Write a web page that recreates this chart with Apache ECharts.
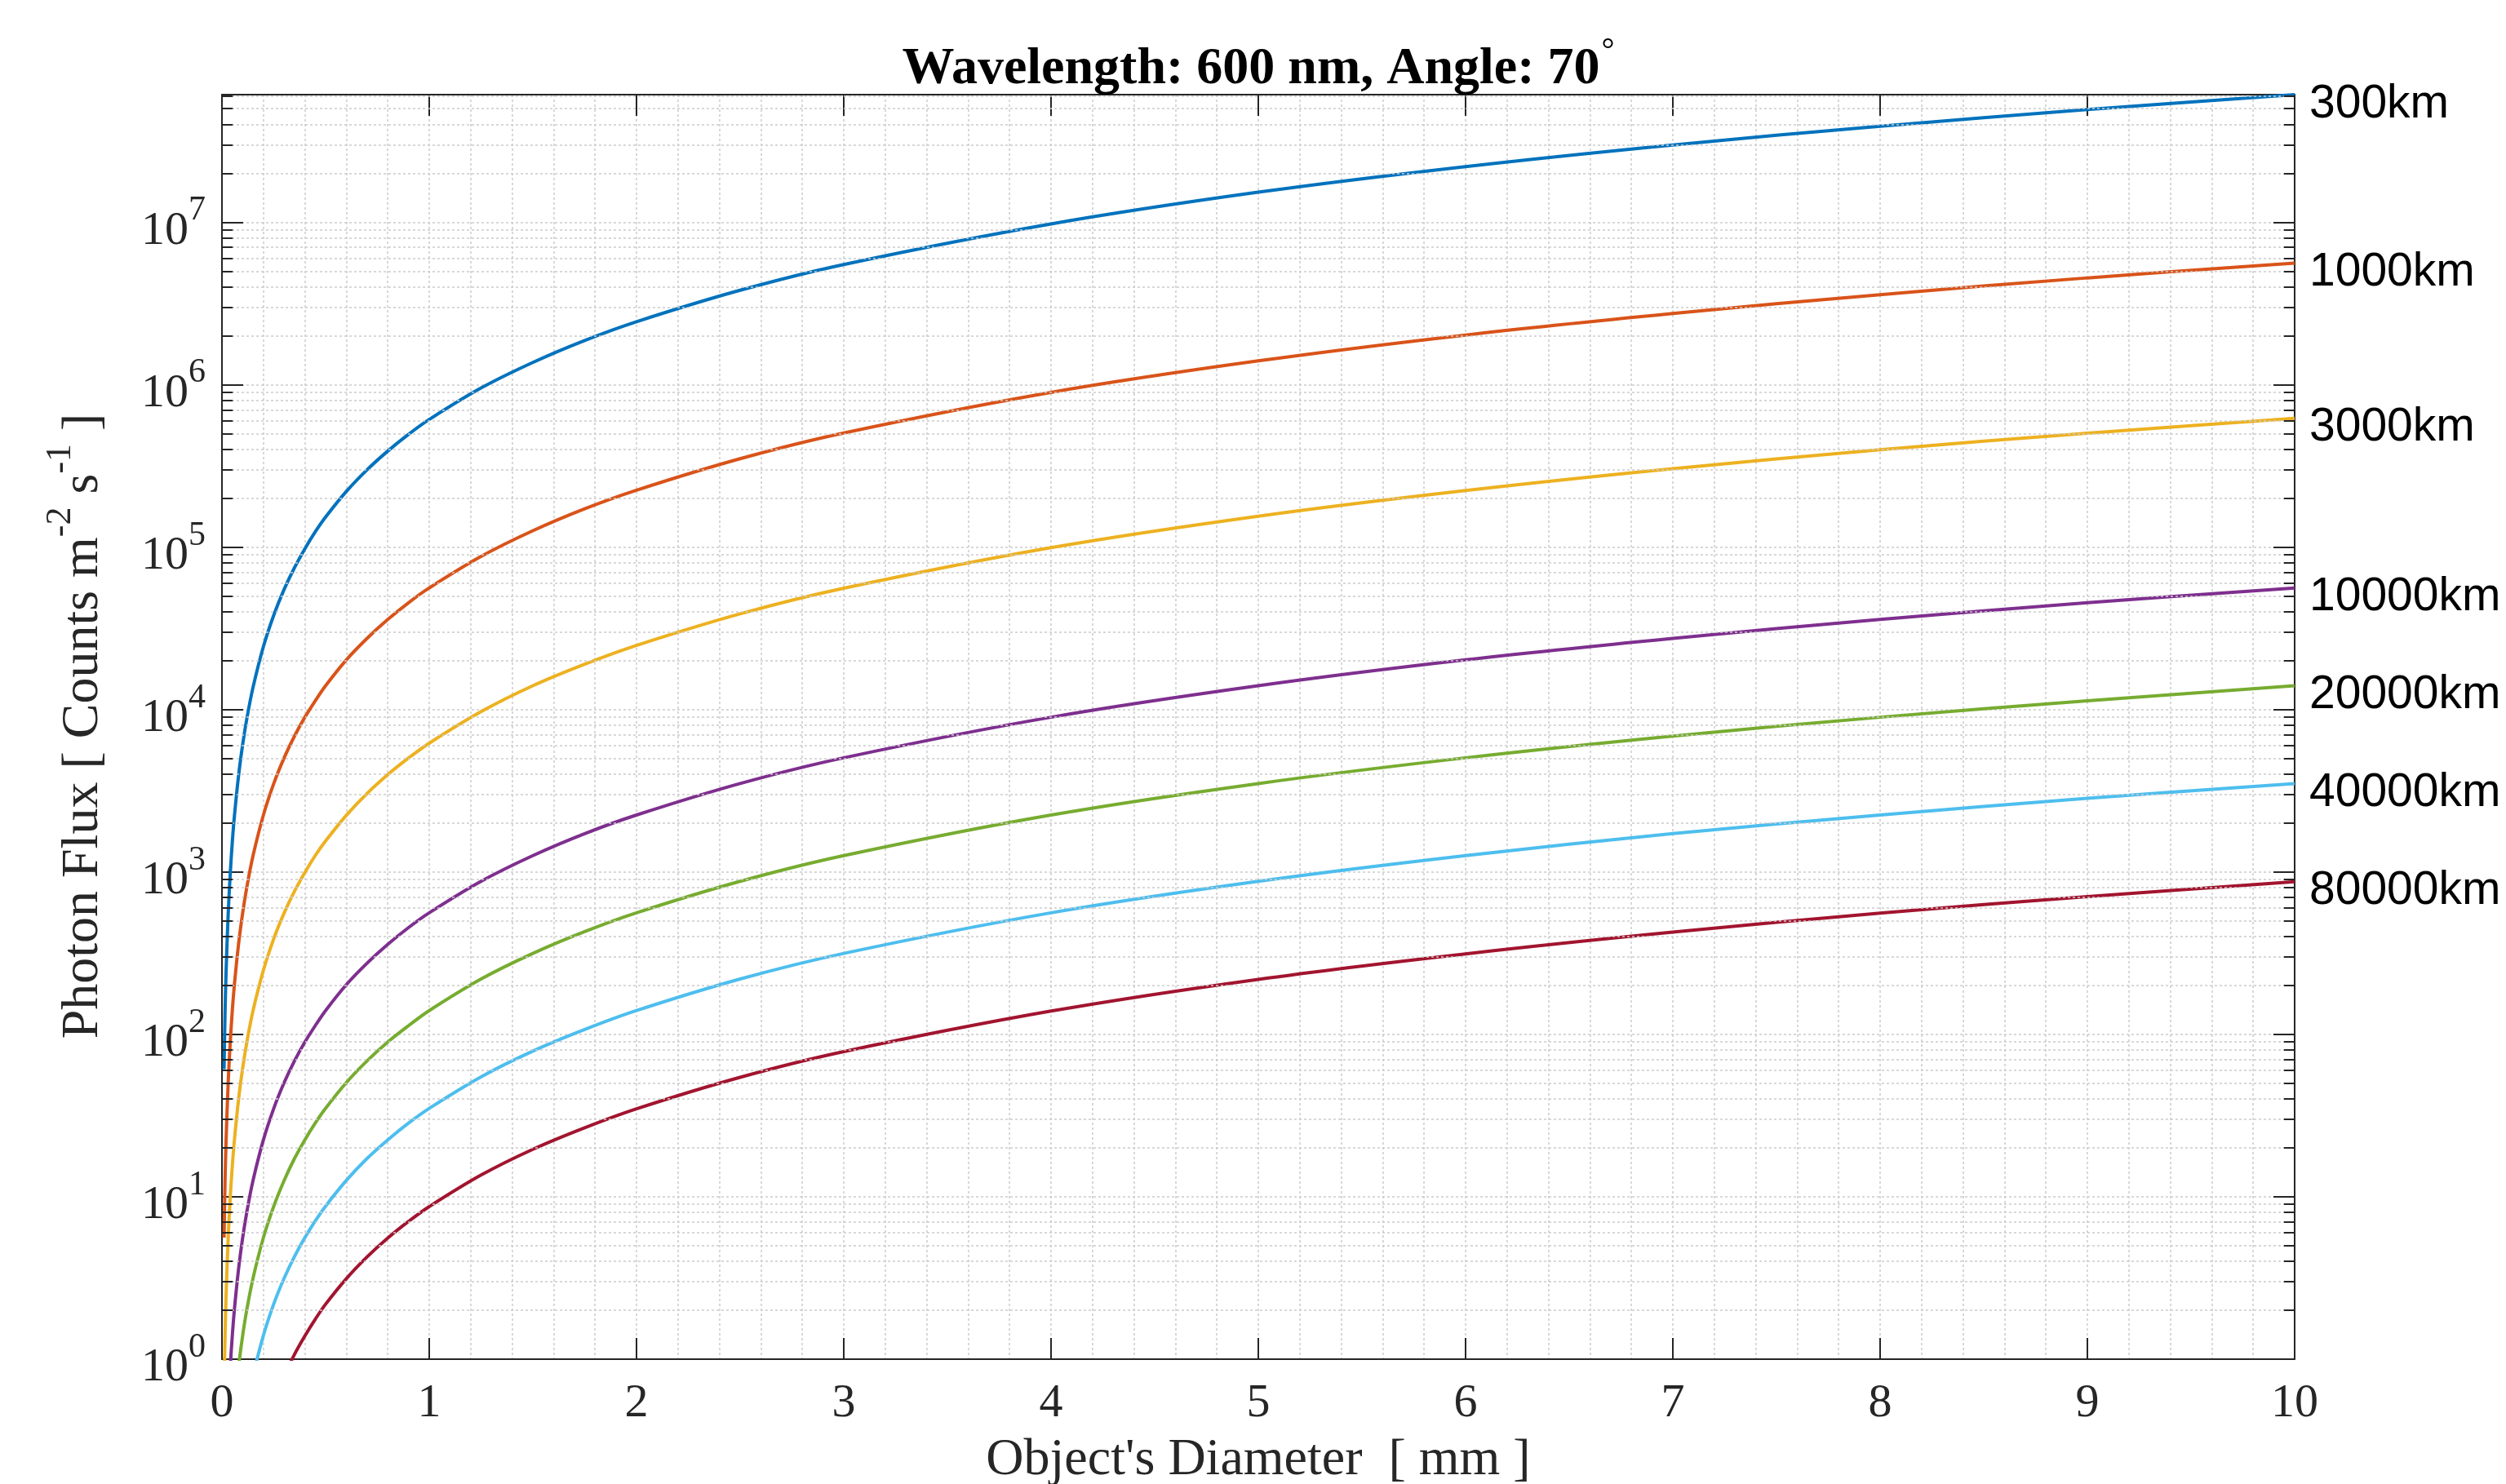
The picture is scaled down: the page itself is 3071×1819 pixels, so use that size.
<!DOCTYPE html>
<html><head><meta charset="utf-8">
<script src="https://cdn.jsdelivr.net/npm/echarts@6/dist/echarts.min.js"></script>
<style>html,body{margin:0;padding:0;background:#fff}#c{width:3071px;height:1819px}</style>
</head><body><div id="c"></div>
<script>
// ---- data ----
const diameters = [0.01, 0.015, 0.02, 0.03, 0.04, 0.05, 0.06, 0.08, 0.1, 0.12, 0.15, 0.2, 0.25, 0.3, 0.35, 0.4, 0.45, 0.5, 0.6, 0.7, 0.8, 0.9, 1, 1.25, 1.5, 1.75, 2, 2.5, 3, 4, 5, 6, 7, 8, 9, 10];
const seriesNames = ['300km', '1000km', '3000km', '10000km', '20000km', '40000km', '80000km'];
const flux300 = [61, 137, 244, 549, 976, 1530, 2200, 3900, 6100, 8780, 13700, 24400, 38100, 54900, 74700, 97600, 124000, 153000, 220000, 299000, 390000, 494000, 610000, 953000, 1370000, 1870000, 2440000, 3810000, 5490000, 9760000, 15300000, 22000000, 29900000, 39000000, 49400000, 61000000];
const flux1000 = [5.6, 12.6, 22.4, 50.4, 89.6, 140, 202, 358, 560, 806, 1260, 2240, 3500, 5040, 6860, 8960, 11300, 14000, 20200, 27400, 35800, 45400, 56000, 87500, 126000, 172000, 224000, 350000, 504000, 896000, 1400000, 2020000, 2740000, 3580000, 4540000, 5600000];
const flux3000 = [0.62, 1.4, 2.48, 5.58, 9.92, 15.5, 22.3, 39.7, 62, 89.3, 140, 248, 388, 558, 760, 992, 1260, 1550, 2230, 3040, 3970, 5020, 6200, 9690, 14000, 19000, 24800, 38800, 55800, 99200, 155000, 223000, 304000, 397000, 502000, 620000];
const flux10000 = [0.056, 0.126, 0.224, 0.504, 0.896, 1.4, 2.02, 3.58, 5.6, 8.06, 12.6, 22.4, 35, 50.4, 68.6, 89.6, 113, 140, 202, 274, 358, 454, 560, 875, 1260, 1720, 2240, 3500, 5040, 8960, 14000, 20200, 27400, 35800, 45400, 56000];
const flux20000 = [0.014, 0.0315, 0.056, 0.126, 0.224, 0.35, 0.504, 0.896, 1.4, 2.02, 3.15, 5.6, 8.75, 12.6, 17.2, 22.4, 28.4, 35, 50.4, 68.6, 89.6, 113, 140, 219, 315, 429, 560, 875, 1260, 2240, 3500, 5040, 6860, 8960, 11300, 14000];
const flux40000 = [0.0035, 0.0079, 0.014, 0.0315, 0.056, 0.0875, 0.126, 0.224, 0.35, 0.504, 0.79, 1.4, 2.19, 3.15, 4.29, 5.6, 7.09, 8.75, 12.6, 17.2, 22.4, 28.4, 35, 54.7, 78.8, 107, 140, 219, 315, 560, 875, 1260, 1720, 2240, 2840, 3500];
const flux80000 = [0.00087, 0.00196, 0.0035, 0.0078, 0.0139, 0.0218, 0.0313, 0.0557, 0.087, 0.125, 0.196, 0.348, 0.544, 0.783, 1.07, 1.39, 1.76, 2.18, 3.13, 4.26, 5.57, 7.05, 8.7, 13.6, 19.6, 26.6, 34.8, 54.4, 78.3, 139, 218, 313, 426, 557, 705, 870];
const yTickExponents = [0, 1, 2, 3, 4, 5, 6, 7];
const xTickValues = [0, 1, 2, 3, 4, 5, 6, 7, 8, 9, 10];
const titleText = 'Wavelength: 600 nm, Angle: 70';
const xAxisTitle = "Object's Diameter  [ mm ]";

// ---- styling ----
const allFlux = [flux300, flux1000, flux3000, flux10000, flux20000, flux40000, flux80000];
const colors = ['#0072BD', '#D95319', '#EDB120', '#7E2F8E', '#77AC30', '#4DBEEE', '#A2142F'];
const serif = "'Liberation Serif','Times New Roman',serif";
const sans = "'Liberation Sans',Arial,sans-serif";
const axisColor = '#262626';
const gridColor = '#cccccc';
const yMin = 1, yMax = 6.1e7, xMin = 0, xMax = 10;

const chart = echarts.init(document.getElementById('c'), null, {renderer: 'canvas', width: 3071, height: 1819});

const minorVals = [];
yTickExponents.forEach(e => {
  for (let k = 2; k <= 9; k++) {
    const v = k * Math.pow(10, e);
    if (v < yMax) minorVals.push(v);
  }
});
const minorTickLen = 0.052;
const minorTickData = [];
minorVals.forEach(v => {
  minorTickData.push([{coord: [xMin, v]}, {coord: [xMin + minorTickLen, v]}]);
  minorTickData.push([{coord: [xMax - minorTickLen, v]}, {coord: [xMax, v]}]);
});

const dataSeries = seriesNames.map((name, i) => ({
  name: name,
  type: 'line',
  xAxisIndex: 0, yAxisIndex: 0,
  data: diameters.map((d, j) => [d, allFlux[i][j]]),
  smooth: 0.35,
  showSymbol: false,
  symbol: 'none',
  clip: true,
  z: 3,
  lineStyle: {color: colors[i], width: 4},
  itemStyle: {color: colors[i]},
  endLabel: {
    show: true, formatter: name, distance: 18,
    color: '#000', fontSize: 57, fontFamily: sans, offset: [0, 12]
  }
}));

const yLabelFormatter = function (value) {
  const e = Math.round(Math.log10(value));
  if (Math.abs(Math.log10(value) - e) > 1e-6 || yTickExponents.indexOf(e) < 0) return '';
  return '{b|10}{e|' + e + '}';
};

const axisCommonX = {
  type: 'value', min: xMin, max: xMax, interval: 1,
  axisLine: {show: true, onZero: false, lineStyle: {color: axisColor, width: 2}},
  axisTick: {show: true, inside: true, length: 26, lineStyle: {color: axisColor, width: 2}},
  minorTick: {show: false, splitNumber: 5}
};
const axisCommonY = {
  type: 'log', logBase: 10, min: yMin, max: yMax,
  axisLine: {show: true, onZero: false, lineStyle: {color: axisColor, width: 2}},
  axisTick: {show: true, inside: true, length: 26, lineStyle: {color: axisColor, width: 2}}
};

const option = {
  animation: false,
  backgroundColor: '#ffffff',
  grid: {left: 272, right: 3071 - 2812, top: 116, bottom: 1819 - 1666, containLabel: false},
  xAxis: [
    Object.assign({}, axisCommonX, {
      position: 'bottom',
      axisLabel: {show: true, margin: 26, color: axisColor, fontSize: 58, fontFamily: serif,
        formatter: v => (xTickValues.indexOf(v) >= 0 ? String(v) : '')},
      splitLine: {show: true, lineStyle: {color: gridColor, width: 1.5, type: [3, 3]}},
      minorSplitLine: {show: true, lineStyle: {color: gridColor, width: 1.5, type: [3, 3]}}
    }),
    Object.assign({}, axisCommonX, {
      position: 'top',
      axisLabel: {show: false},
      splitLine: {show: false}
    })
  ],
  yAxis: [
    Object.assign({}, axisCommonY, {
      position: 'left',
      axisLabel: {
        show: true, margin: 20, color: axisColor, formatter: yLabelFormatter, showMaxLabel: false,
        rich: {
          b: {fontSize: 58, fontFamily: serif, color: axisColor, lineHeight: 60, padding: [22, 0, 0, 0]},
          e: {fontSize: 42, fontFamily: serif, color: axisColor, lineHeight: 44, padding: [0, 0, 28, 0]}
        }
      },
      splitLine: {show: true, lineStyle: {color: gridColor, width: 1.5, type: [3, 3]}}
    }),
    Object.assign({}, axisCommonY, {
      position: 'right',
      axisLabel: {show: false},
      splitLine: {show: false}
    })
  ],
  series: [
    {
      name: 'minorGrid', type: 'line', data: [], xAxisIndex: 0, yAxisIndex: 0, z: 1, silent: true,
      markLine: {
        silent: true, symbol: ['none', 'none'], label: {show: false}, animation: false,
        lineStyle: {color: gridColor, width: 1.5, type: [3, 3]},
        emphasis: {disabled: true},
        data: minorVals.map(v => ({yAxis: v}))
      }
    },
    {
      name: 'minorTicks', type: 'line', data: [], xAxisIndex: 0, yAxisIndex: 0, z: 5, silent: true,
      markLine: {
        silent: true, symbol: ['none', 'none'], label: {show: false}, animation: false,
        lineStyle: {color: axisColor, width: 2, type: 'solid'},
        emphasis: {disabled: true},
        data: minorTickData
      }
    }
  ].concat(dataSeries),
  graphic: [
    {
      type: 'text', x: 1542, y: 85, z: 10,
      style: {
        text: '{t|' + titleText + '}{d|°}',
        align: 'center', verticalAlign: 'middle', textAlign: 'center', textVerticalAlign: 'middle',
        rich: {
          t: {fontSize: 64, fontWeight: 'bold', fontFamily: serif, fill: '#000', lineHeight: 66},
          d: {fontSize: 40, fontFamily: serif, fill: '#000', lineHeight: 42, padding: [0, 0, 44, 2]}
        }
      }
    },
    {
      type: 'text', x: 1542, y: 1790, z: 10,
      style: {
        text: xAxisTitle, fontSize: 64, fontFamily: serif, fill: axisColor,
        align: 'center', verticalAlign: 'middle', textAlign: 'center', textVerticalAlign: 'middle'
      }
    },
    {
      type: 'text', x: 102, y: 890, rotation: Math.PI / 2, z: 10,
      style: {
        text: '{n|Photon Flux [ Counts m}{s|-2}{n| s}{s|-1}{n| ]}',
        align: 'center', verticalAlign: 'middle', textAlign: 'center', textVerticalAlign: 'middle',
        rich: {
          n: {fontSize: 64, fontFamily: serif, fill: axisColor, lineHeight: 66},
          s: {fontSize: 44, fontFamily: serif, fill: axisColor, lineHeight: 46, padding: [0, 0, 56, 0]}
        }
      }
    }
  ]
};
chart.setOption(option);
</script>
</body></html>
